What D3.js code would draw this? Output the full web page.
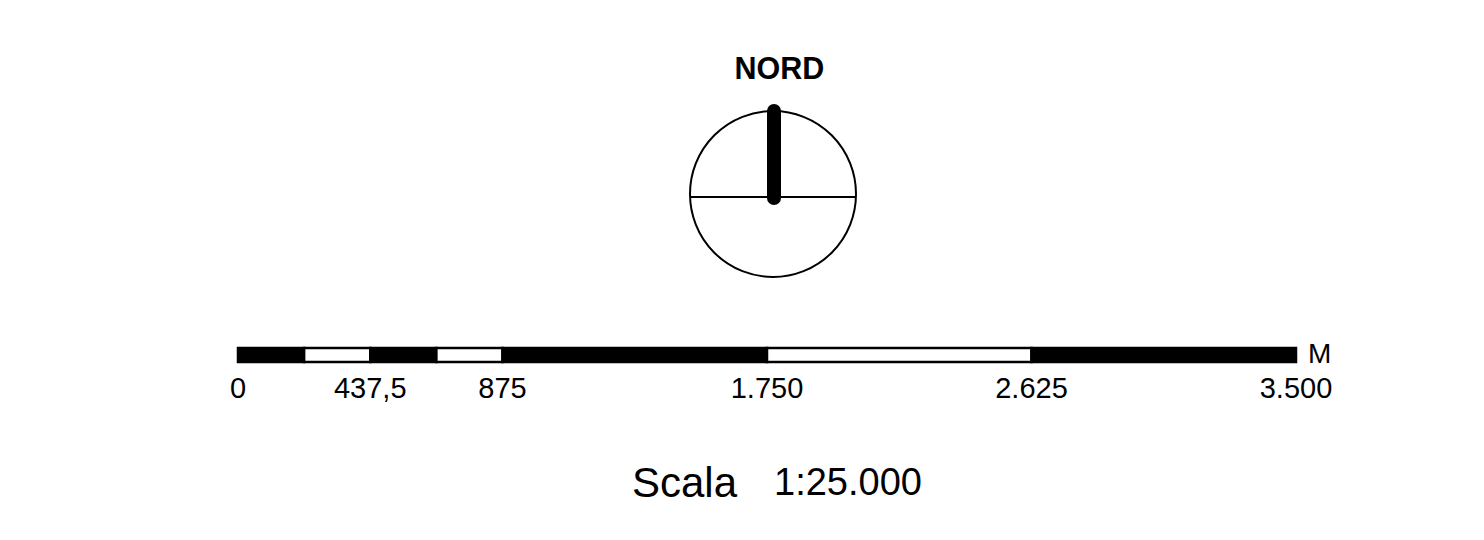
<!DOCTYPE html>
<html>
<head>
<meta charset="utf-8">
<script src="https://cdn.jsdelivr.net/npm/d3@7"></script>
<style>
html,body{margin:0;padding:0;background:#fff;}
svg{display:block;}
text{font-family:"Liberation Sans",Arial,sans-serif;fill:#000;}
</style>
</head>
<body>
<svg id="chart" width="1484" height="540"></svg>
<script>
// Scale bar data (metres)
const segmentBreaks = [0, 218.75, 437.5, 656.25, 875, 1750, 2625, 3500];
const segmentFills = ["black", "white", "black", "white", "black", "white", "black"];
const tickValues = [0, 437.5, 875, 1750, 2625, 3500];
const tickLabels = ["0", "437,5", "875", "1.750", "2.625", "3.500"];
const unitLabel = "M";
const northLabel = "NORD";
const scaleTitle = "Scala";
const scaleRatio = "1:25.000";

const svg = d3.select("#chart");

// Scale bar
const x = d3.scaleLinear().domain([0, 3500]).range([238, 1296]);
const barY = 348, barH = 14;
const segs = d3.pairs(segmentBreaks).map((p, i) => ({a: p[0], b: p[1], fill: segmentFills[i]}));
svg.append("g").selectAll("rect").data(segs).join("rect")
  .attr("x", d => x(d.a)).attr("y", barY)
  .attr("width", d => x(d.b) - x(d.a)).attr("height", barH)
  .attr("fill", d => d.fill).attr("stroke", "black").attr("stroke-width", 2.5);

svg.append("g").selectAll("text").data(tickValues).join("text")
  .attr("x", d => x(d)).attr("y", 398)
  .attr("text-anchor", "middle").attr("font-size", 29)
  .text((d, i) => tickLabels[i]);

svg.append("text").attr("x", x(3500) + 12).attr("y", 363)
  .attr("font-size", 28).text(unitLabel);

// North arrow
const cx = 773, cy = 194, r = 83;
svg.append("circle").attr("cx", cx).attr("cy", cy).attr("r", r)
  .attr("fill", "none").attr("stroke", "black").attr("stroke-width", 2);
svg.append("line").attr("x1", cx - r).attr("x2", cx + r).attr("y1", 197).attr("y2", 197)
  .attr("stroke", "black").attr("stroke-width", 2);
svg.append("line").attr("x1", cx + 1).attr("x2", cx + 1).attr("y1", 111).attr("y2", 198)
  .attr("stroke", "black").attr("stroke-width", 14).attr("stroke-linecap", "round");
svg.append("text").attr("x", 779.5).attr("y", 79).attr("text-anchor", "middle")
  .attr("font-size", 30.5).attr("font-weight", "bold").text(northLabel);

// Scale title
svg.append("text").attr("x", 632).attr("y", 497).attr("font-size", 42).text(scaleTitle);
svg.append("text").attr("x", 774).attr("y", 495).attr("font-size", 38).text(scaleRatio);
</script>
</body>
</html>
